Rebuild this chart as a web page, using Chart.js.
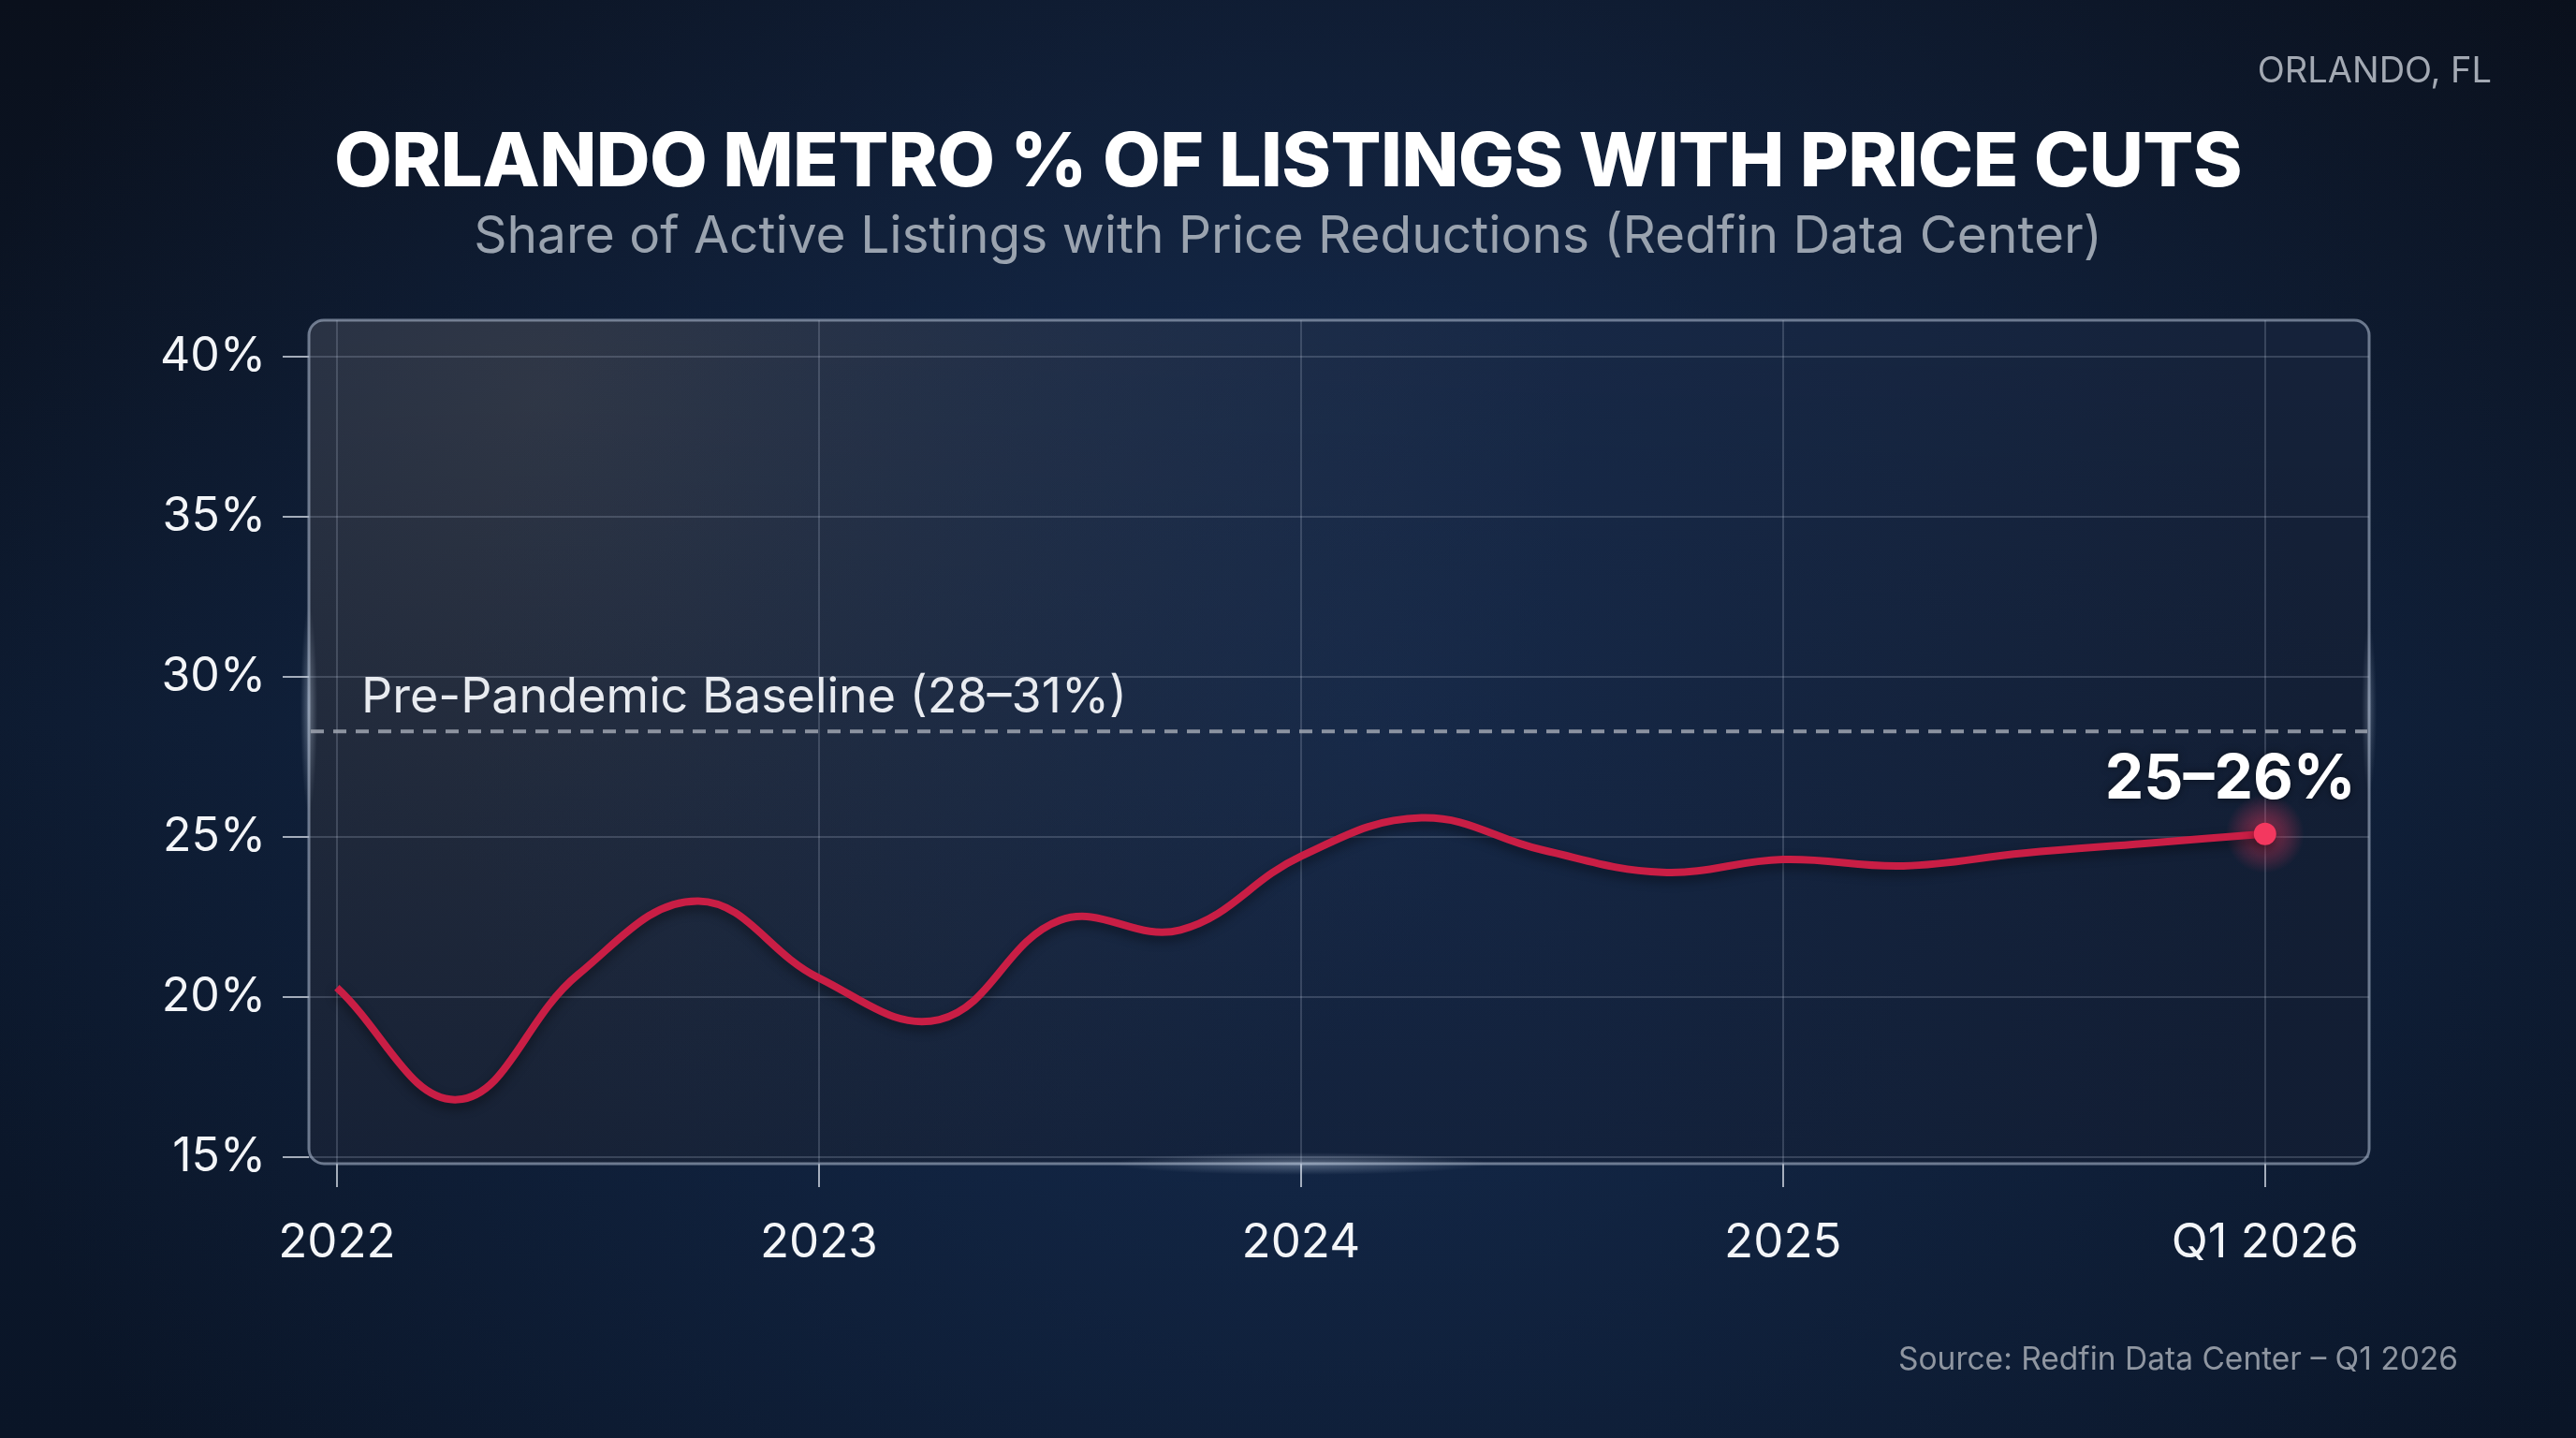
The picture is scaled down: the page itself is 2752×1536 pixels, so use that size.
<!DOCTYPE html>
<html>
<head>
<meta charset="utf-8">
<title>Orlando Metro % of Listings with Price Cuts</title>
<script src="https://cdn.jsdelivr.net/npm/chart.js@4.4.1/dist/chart.umd.min.js"></script>
<style>
  html, body { margin: 0; padding: 0; background: #0b1424; }
  #wrap { position: relative; width: 2752px; height: 1536px; overflow: hidden; font-family: Inter, "Noto Sans", sans-serif; }
  canvas { display: block; }
  .txt { position: absolute; white-space: nowrap; line-height: 1; }
  #title { left: 0; width: 2752px; top: 130px; text-align: center; color: #ffffff; font-size: 80px; font-weight: 800; letter-spacing: -0.6px; }
  #subtitle { left: 0; width: 2752px; top: 223px; text-align: center; color: #9aa3af; font-size: 55px; font-weight: 400; }
  #place { right: 90px; top: 55px; color: #a3a9b3; font-size: 38px; }
  #source { right: 126px; top: 1435px; color: #8f96a1; font-size: 33.5px; }
</style>
</head>
<body>
<div id="wrap">
  <canvas id="chart" width="2752" height="1536"></canvas>
  <div class="txt" id="place">ORLANDO, FL</div>
  <div class="txt" id="title">ORLANDO METRO % OF LISTINGS WITH PRICE CUTS</div>
  <div class="txt" id="subtitle">Share of Active Listings with Price Reductions (Redfin Data Center)</div>
  <div class="txt" id="source">Source: Redfin Data Center – Q1 2026</div>
</div>
<script>
// quarterly readings, Q1 2022 .. Q1 2026
const quarterLabels = ['Q1 2022', 'Q2 2022', 'Q3 2022', 'Q4 2022',
                       'Q1 2023', 'Q2 2023', 'Q3 2023', 'Q4 2023',
                       'Q1 2024', 'Q2 2024', 'Q3 2024', 'Q4 2024',
                       'Q1 2025', 'Q2 2025', 'Q3 2025', 'Q4 2025',
                       'Q1 2026'];
const quarterX = [2022.00, 2022.25, 2022.50, 2022.75,
                  2023.00, 2023.25, 2023.50, 2023.75,
                  2024.00, 2024.25, 2024.50, 2024.75,
                  2025.00, 2025.25, 2025.50, 2025.75,
                  2026.00];
const shareWithCuts = [20.3, 16.8, 20.7, 23.0,
                       20.6, 19.3, 22.4, 22.1,
                       24.4, 25.6, 24.6, 23.9,
                       24.3, 24.1, 24.5, 24.8,
                       25.1];

const xTicks = [2022, 2023, 2024, 2025, 2026];
const xTickLabels = ['2022', '2023', '2024', '2025', 'Q1 2026'];
const yTicks = [15, 20, 25, 30, 35, 40];

const baselineValue = 28.3;
const baselineLabel = 'Pre-Pandemic Baseline (28–31%)';
const latestLabel = '25–26%';

const points = quarterX.map((x, i) => ({ x: x, y: shareWithCuts[i] }));
const lastIdx = points.length - 1;

function roundRectPath(ctx, x, y, w, h, r) {
  ctx.beginPath();
  ctx.moveTo(x + r, y);
  ctx.lineTo(x + w - r, y);
  ctx.arcTo(x + w, y, x + w, y + r, r);
  ctx.lineTo(x + w, y + h - r);
  ctx.arcTo(x + w, y + h, x + w - r, y + h, r);
  ctx.lineTo(x + r, y + h);
  ctx.arcTo(x, y + h, x, y + h - r, r);
  ctx.lineTo(x, y + r);
  ctx.arcTo(x, y, x + r, y, r);
  ctx.closePath();
}

function glowSpot(ctx, x, y, rx, ry, alpha) {
  ctx.save();
  ctx.translate(x, y);
  ctx.scale(rx / 100, ry / 100);
  const g = ctx.createRadialGradient(0, 0, 0, 0, 0, 100);
  g.addColorStop(0, 'rgba(210,225,245,' + alpha + ')');
  g.addColorStop(1, 'rgba(210,225,245,0)');
  ctx.fillStyle = g;
  ctx.fillRect(-100, -100, 200, 200);
  ctx.restore();
}

const decor = {
  id: 'decor',
  beforeDraw(chart) {
    const { ctx, chartArea: a, width, height } = chart;
    ctx.save();
    // page background
    let g = ctx.createLinearGradient(0, 0, 0, height);
    g.addColorStop(0, '#0a101c');
    g.addColorStop(0.5, '#0d1a2f');
    g.addColorStop(1, '#0a1527');
    ctx.fillStyle = g;
    ctx.fillRect(0, 0, width, height);
    let r = ctx.createRadialGradient(width * 0.52, height * 0.48, 0, width * 0.52, height * 0.48, width * 0.55);
    r.addColorStop(0, 'rgba(30,62,112,0.55)');
    r.addColorStop(1, 'rgba(30,62,112,0)');
    ctx.fillStyle = r;
    ctx.fillRect(0, 0, width, height);

    // plot panel
    roundRectPath(ctx, a.left, a.top, a.right - a.left, a.bottom - a.top, 16);
    ctx.fillStyle = '#15223a';
    ctx.fill();
    ctx.clip();
    r = ctx.createRadialGradient(a.left + 250, a.top + 80, 0, a.left + 250, a.top + 80, 1100);
    r.addColorStop(0, 'rgba(66,70,80,0.6)');
    r.addColorStop(1, 'rgba(66,70,80,0)');
    ctx.fillStyle = r;
    ctx.fillRect(a.left, a.top, a.right - a.left, a.bottom - a.top);
    r = ctx.createRadialGradient(a.left + 1150, a.top + 450, 0, a.left + 1150, a.top + 450, 1000);
    r.addColorStop(0, 'rgba(28,58,105,0.45)');
    r.addColorStop(1, 'rgba(28,58,105,0)');
    ctx.fillStyle = r;
    ctx.fillRect(a.left, a.top, a.right - a.left, a.bottom - a.top);
    g = ctx.createLinearGradient(0, a.top, 0, a.bottom);
    g.addColorStop(0, 'rgba(0,0,0,0)');
    g.addColorStop(1, 'rgba(8,16,32,0.25)');
    ctx.fillStyle = g;
    ctx.fillRect(a.left, a.top, a.right - a.left, a.bottom - a.top);
    ctx.restore();
  },
  beforeDatasetsDraw(chart) {
    const { ctx, chartArea: a, scales } = chart;
    ctx.save();
    // panel border
    roundRectPath(ctx, a.left, a.top, a.right - a.left, a.bottom - a.top, 16);
    ctx.strokeStyle = 'rgba(165,178,198,0.62)';
    ctx.lineWidth = 3;
    ctx.stroke();
    // soft highlights on the border
    glowSpot(ctx, a.left, scales.y.getPixelForValue(29), 9, 110, 0.35);
    glowSpot(ctx, scales.x.getPixelForValue(2024), a.bottom, 200, 12, 0.35);
    glowSpot(ctx, a.right, scales.y.getPixelForValue(29), 8, 90, 0.25);

    // pre-pandemic baseline
    const by = scales.y.getPixelForValue(baselineValue);
    ctx.setLineDash([14, 10]);
    ctx.strokeStyle = 'rgba(160,166,178,0.85)';
    ctx.lineWidth = 4;
    ctx.beginPath();
    ctx.moveTo(a.left + 2, by);
    ctx.lineTo(a.right - 2, by);
    ctx.stroke();
    ctx.setLineDash([]);
    ctx.fillStyle = '#e8ebf0';
    ctx.font = '400 52px Inter, "Noto Sans", sans-serif';
    ctx.textAlign = 'left';
    ctx.textBaseline = 'middle';
    ctx.fillText(baselineLabel, a.left + 56, by - 36);

    // glow behind the latest reading
    const p = chart.getDatasetMeta(0).data[lastIdx];
    const rg = ctx.createRadialGradient(p.x, p.y, 0, p.x, p.y, 42);
    rg.addColorStop(0, 'rgba(255,60,100,0.55)');
    rg.addColorStop(1, 'rgba(255,60,100,0)');
    ctx.fillStyle = rg;
    ctx.fillRect(p.x - 42, p.y - 42, 84, 84);
    ctx.restore();
  },
  beforeDatasetDraw(chart) {
    const ctx = chart.ctx;
    ctx.save();
    ctx.shadowColor = 'rgba(0,0,0,0.45)';
    ctx.shadowBlur = 12;
    ctx.shadowOffsetY = 5;
  },
  afterDatasetDraw(chart) {
    chart.ctx.restore();
  },
  afterDatasetsDraw(chart) {
    const ctx = chart.ctx;
    const p = chart.getDatasetMeta(0).data[lastIdx];
    ctx.save();
    ctx.fillStyle = '#ffffff';
    ctx.font = '700 66px Inter, "Noto Sans", sans-serif';
    ctx.textAlign = 'center';
    ctx.textBaseline = 'middle';
    ctx.shadowColor = 'rgba(0,0,0,0.5)';
    ctx.shadowBlur = 8;
    ctx.fillText(latestLabel, p.x - 37, p.y - 58);
    ctx.restore();
  }
};

const ctx = document.getElementById('chart');
new Chart(ctx, {
  type: 'line',
  data: {
    datasets: [{
      label: 'Share of listings with price cuts',
      data: points,
      borderColor: '#c91e45',
      borderWidth: 8,
      tension: 0.4,
      fill: false,
      pointRadius: c => c.dataIndex === lastIdx ? 12 : 0,
      pointBackgroundColor: '#f3385f',
      pointBorderWidth: 0,
      pointHoverRadius: 0
    }]
  },
  options: {
    responsive: false,
    animation: false,
    events: [],
    layout: { padding: { top: 342, right: 221, bottom: 0, left: 0 } },
    plugins: { legend: { display: false }, tooltip: { enabled: false } },
    scales: {
      x: {
        type: 'linear',
        min: 2021.942,
        max: 2026.216,
        afterBuildTicks: s => { s.ticks = xTicks.map(v => ({ value: v })); },
        afterFit: s => { s.height = 293; },
        ticks: {
          callback: v => xTickLabels[xTicks.indexOf(v)],
          color: '#f3f5f8',
          font: { family: 'Inter', size: 51 },
          padding: 29,
          maxRotation: 0,
          autoSkip: false
        },
        grid: { color: 'rgba(200,212,228,0.2)', lineWidth: 2, tickLength: 25, tickColor: 'rgba(215,222,232,0.75)' },
        border: { display: false }
      },
      y: {
        min: 14.8,
        max: 41.14,
        afterBuildTicks: s => { s.ticks = yTicks.map(v => ({ value: v })); },
        afterFit: s => { s.width = 330; },
        ticks: {
          callback: v => v + '%',
          color: '#f3f5f8',
          font: { family: 'Inter', size: 50 },
          padding: 18
        },
        grid: { color: 'rgba(200,212,228,0.2)', lineWidth: 2, tickLength: 28, tickColor: 'rgba(215,222,232,0.75)' },
        border: { display: false }
      }
    }
  },
  plugins: [decor]
});
</script>
</body>
</html>
